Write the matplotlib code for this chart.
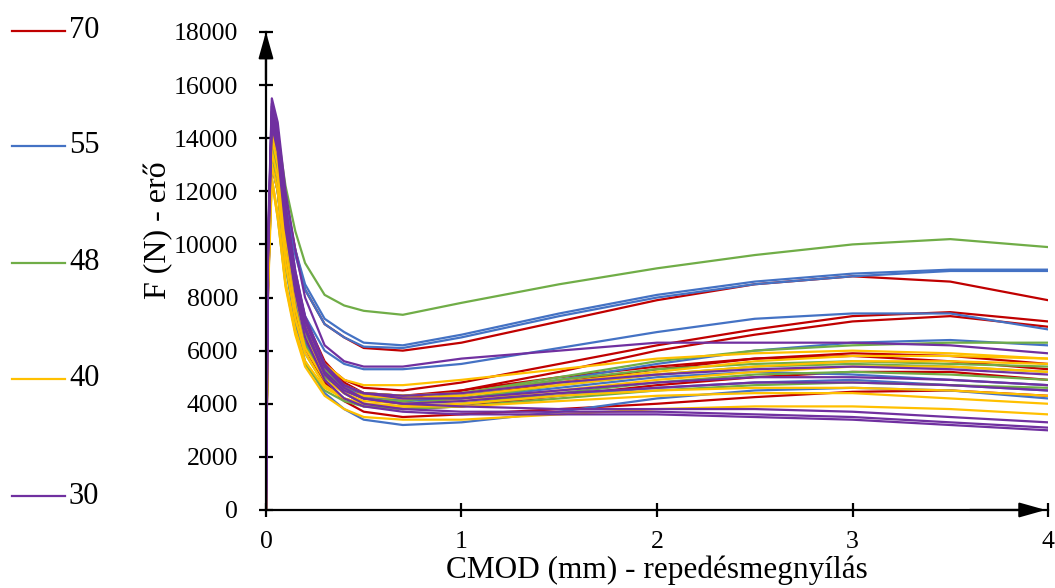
import matplotlib
matplotlib.use("Agg")
import matplotlib.pyplot as plt
from matplotlib.lines import Line2D

plt.rcParams['font.family'] = ['Liberation Serif', 'DejaVu Serif']

# CMOD grid (mm) shared by all curves
cmod = [0, 0.01, 0.03, 0.06, 0.1, 0.15, 0.2, 0.3, 0.4, 0.5, 0.7, 1.0, 1.5, 2.0, 2.5, 3.0, 3.5, 4.0]

group_labels = ['70', '55', '48', '40', '30']
group_colors = ['#C00000', '#4472C4', '#70AD47', '#FFC000', '#7030A0']

# Force (N) curves per group
f70 = [
    [0, 9000, 14200, 13500, 11800, 9800, 8300, 7000, 6500, 6100, 6000, 6300, 7100, 7900, 8500, 8800, 8600, 7900],
    [0, 8500, 13800, 13000, 10500, 8200, 6800, 5500, 4900, 4600, 4500, 4800, 5500, 6200, 6800, 7300, 7450, 7100],
    [0, 8000, 13500, 12500, 10000, 7800, 6400, 5200, 4700, 4400, 4200, 4500, 5200, 6000, 6600, 7100, 7300, 6900],
    [0, 8800, 14000, 13200, 10800, 8500, 6900, 5400, 4700, 4300, 4100, 4300, 4800, 5300, 5700, 5900, 5800, 5500],
    [0, 9500, 13600, 12800, 10200, 8000, 6500, 5100, 4400, 4000, 3800, 3900, 4300, 4700, 5000, 5200, 5200, 4900],
    [0, 8200, 13000, 12000, 9500, 7500, 6100, 4800, 4100, 3700, 3500, 3600, 3800, 4000, 4250, 4450, 4500, 4300],
    [0, 9000, 14500, 13800, 11200, 8800, 7200, 5600, 4800, 4400, 4300, 4500, 5000, 5400, 5700, 5800, 5600, 5300],
]
f55 = [
    [0, 9000, 14000, 13400, 11500, 9800, 8500, 7200, 6700, 6300, 6200, 6600, 7400, 8100, 8600, 8900, 9050, 9050],
    [0, 8800, 13800, 13200, 11300, 9600, 8300, 7000, 6500, 6150, 6100, 6500, 7300, 8000, 8500, 8800, 9000, 9000],
    [0, 9000, 14300, 13500, 11000, 8800, 7300, 6000, 5500, 5300, 5300, 5500, 6100, 6700, 7200, 7400, 7400, 6800],
    [0, 8500, 13500, 12600, 10000, 7800, 6300, 5000, 4500, 4200, 4100, 4300, 4900, 5500, 6000, 6300, 6400, 6200],
    [0, 8000, 13000, 12000, 9200, 7000, 5600, 4400, 3800, 3400, 3200, 3300, 3700, 4200, 4500, 4600, 4500, 4200],
    [0, 8800, 14200, 13300, 10600, 8300, 6700, 5200, 4600, 4300, 4100, 4200, 4600, 5000, 5200, 5100, 4900, 4700],
    [0, 9200, 14000, 13000, 10400, 8100, 6600, 5100, 4400, 4000, 3900, 4000, 4300, 4600, 4800, 4900, 4700, 4500],
]
f48 = [
    [0, 9000, 15000, 14200, 12200, 10500, 9300, 8100, 7700, 7500, 7350, 7800, 8500, 9100, 9600, 10000, 10200, 9900],
    [0, 8500, 13800, 12600, 9800, 7600, 6200, 5000, 4500, 4200, 4100, 4400, 5000, 5600, 6000, 6200, 6300, 6300],
    [0, 9500, 14800, 13700, 10800, 8400, 6800, 5300, 4600, 4200, 4000, 4200, 4700, 5100, 5400, 5500, 5400, 5200],
    [0, 8800, 13200, 12000, 9200, 7200, 5900, 4700, 4200, 3900, 3800, 4000, 4400, 4800, 5100, 5200, 5100, 4900],
    [0, 9200, 14500, 13400, 10600, 8300, 6700, 5300, 4700, 4400, 4300, 4400, 4900, 5300, 5500, 5600, 5500, 5400],
    [0, 8500, 12500, 11000, 8500, 6700, 5500, 4500, 4100, 3900, 3800, 3900, 4200, 4500, 4700, 4800, 4700, 4600],
]
f40 = [
    [0, 8500, 12500, 11200, 8600, 6800, 5600, 4600, 4200, 4000, 3900, 3900, 4100, 4300, 4400, 4400, 4200, 4000],
    [0, 9000, 14200, 13400, 10800, 8600, 7000, 5500, 4900, 4700, 4700, 4900, 5300, 5700, 5900, 6000, 5900, 5700],
    [0, 8800, 13500, 12500, 9800, 7600, 6100, 4900, 4400, 4100, 4000, 4100, 4500, 4900, 5200, 5400, 5400, 5200],
    [0, 8000, 12400, 11000, 8400, 6600, 5400, 4300, 3800, 3500, 3400, 3400, 3600, 3800, 3900, 3900, 3800, 3600],
    [0, 9000, 14000, 13000, 10300, 8100, 6500, 5100, 4500, 4300, 4200, 4300, 4700, 5100, 5400, 5600, 5600, 5500],
    [0, 8600, 13000, 12000, 9300, 7200, 5900, 4700, 4200, 4000, 3900, 4000, 4300, 4500, 4600, 4600, 4500, 4300],
    [0, 9200, 14600, 13600, 10900, 8700, 7000, 5400, 4700, 4400, 4300, 4400, 4800, 5200, 5600, 5800, 5800, 5700],
]
f30 = [
    [0, 10000, 15500, 14600, 12000, 9800, 8000, 6200, 5600, 5400, 5400, 5700, 6000, 6300, 6300, 6300, 6200, 5900],
    [0, 9800, 15300, 14300, 11500, 9000, 7300, 5500, 4700, 4400, 4200, 4200, 4500, 4800, 5000, 5000, 4900, 4700],
    [0, 9500, 14800, 13800, 11000, 8500, 6800, 5100, 4400, 4000, 3800, 3700, 3700, 3700, 3600, 3500, 3300, 3100],
    [0, 9300, 14500, 13500, 10600, 8200, 6500, 4900, 4200, 3900, 3700, 3600, 3600, 3600, 3500, 3400, 3200, 3000],
    [0, 9700, 15000, 14000, 11300, 8800, 7100, 5400, 4700, 4400, 4300, 4400, 4800, 5100, 5300, 5400, 5300, 5100],
    [0, 9400, 14700, 13700, 10900, 8600, 6900, 5200, 4500, 4200, 4000, 4100, 4400, 4600, 4800, 4800, 4700, 4500],
    [0, 9600, 15200, 14200, 11400, 9000, 7200, 5400, 4600, 4200, 4000, 3900, 3800, 3800, 3800, 3700, 3500, 3300],
]
groups = [f70, f55, f48, f40, f30]

x_ticks = [0, 1, 2, 3, 4]
y_ticks = list(range(0, 18001, 2000))

fig = plt.figure(figsize=(10.55, 5.88), dpi=100)
ax = fig.add_axes([0.2521, 0.1327, 0.7413, 0.8129])

for curves, color in zip(groups, group_colors):
    for f in curves:
        ax.plot(cmod, f, color=color, lw=1.6, solid_joinstyle='round',
                solid_capstyle='round', zorder=2)

ax.set_xlim(0, 4)
ax.set_ylim(0, 18000)
ax.set_xticks(x_ticks)
ax.set_yticks(y_ticks)
ax.set_xticklabels([str(v) for v in x_ticks])
ax.set_yticklabels([str(v) for v in y_ticks])
for s in ['top', 'right']:
    ax.spines[s].set_visible(False)
for s in ['left', 'bottom']:
    ax.spines[s].set_linewidth(1.6)
    ax.spines[s].set_zorder(3)
ax.tick_params(axis='both', direction='inout', length=10, width=1.6,
               labelsize=18.5, colors='black')
ax.tick_params(axis='y', pad=15)
ax.tick_params(axis='x', pad=10)
ax.set_xlabel('CMOD (mm) - repedésmegnyílás', fontsize=22.5, labelpad=2)
ax.set_ylabel('F (N) - erő', fontsize=23)
ax.yaxis.set_label_coords(-0.118, 0.586)

# axis arrows
ax.annotate('', xy=(0, 1.0), xytext=(0, 0.9), xycoords='axes fraction',
            arrowprops=dict(arrowstyle='-|>,head_length=1.6,head_width=0.45',
                            color='black', lw=1.6, shrinkA=0, shrinkB=0), zorder=4)
ax.annotate('', xy=(0.997, 0), xytext=(0.9, 0), xycoords='axes fraction',
            arrowprops=dict(arrowstyle='-|>,head_length=1.6,head_width=0.45',
                            color='black', lw=1.6, shrinkA=0, shrinkB=0), zorder=4)

# legend drawn at left side
W, H = 1055, 588
leg_y = [31, 146, 263, 379, 496]
for lab, col, py in zip(group_labels, group_colors, leg_y):
    yf = 1 - py / H
    fig.add_artist(Line2D([12 / W, 65 / W], [yf, yf], color=col, lw=1.6))
    fig.text(69 / W, yf, lab, fontsize=22, va='center', ha='left')

fig.savefig('out.png', dpi=100)
